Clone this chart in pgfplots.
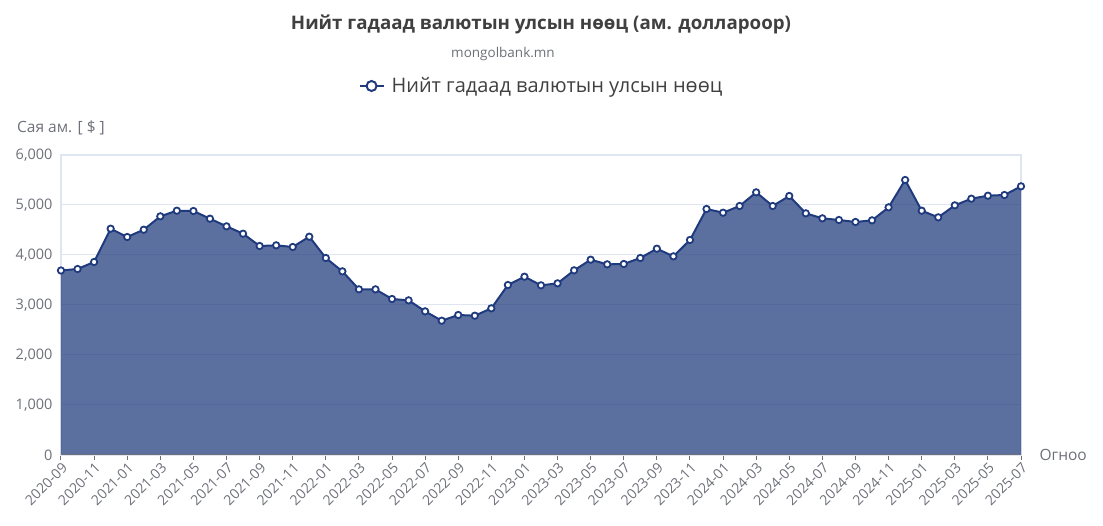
\documentclass[border=0pt]{standalone}
\usepackage{fontspec}
\setmainfont{Open Sans}
\usepackage{pgfplots}
\pgfplotsset{compat=1.18}
\usepackage{pgfplotstable}
\definecolor{navy}{RGB}{31,59,125}
\definecolor{txtgray}{RGB}{110,112,121}
\definecolor{gridc}{RGB}{224,230,241}
\definecolor{titlec}{RGB}{64,64,64}

\pgfplotstableread{
x y
0 3690
1 3720
2 3860
3 4526
4 4360
5 4506
6 4773
7 4886
8 4880
9 4726
10 4573
11 4426
12 4180
13 4193
14 4160
15 4366
16 3940
17 3673
18 3313
19 3313
20 3120
21 3093
22 2873
23 2686
24 2800
25 2786
26 2933
27 3400
28 3566
29 3393
30 3433
31 3693
32 3906
33 3813
34 3820
35 3940
36 4126
37 3973
38 4300
39 4920
40 4846
41 4980
42 5253
43 4980
44 5180
45 4833
46 4733
47 4700
48 4660
49 4693
50 4953
51 5500
52 4886
53 4753
54 4993
55 5126
56 5186
57 5200
58 5373
}\datatable

\begin{document}
\begin{tikzpicture}
\begin{axis}[
  name=ax,
  scale only axis, width=960pt, height=300pt,
  xmin=0, xmax=58, ymin=0, ymax=6000,
  xtick={0,2,...,58},
  xticklabels={2020-09,2020-11,2021-01,2021-03,2021-05,2021-07,2021-09,2021-11,2022-01,2022-03,2022-05,2022-07,2022-09,2022-11,2023-01,2023-03,2023-05,2023-07,2023-09,2023-11,2024-01,2024-03,2024-05,2024-07,2024-09,2024-11,2025-01,2025-03,2025-05,2025-07},
  x tick label style={rotate=45, anchor=north east, font=\fontsize{14}{14}\selectfont, text=txtgray, inner sep=1pt},
  ytick={0,1000,...,6000},
  y tick label style={font=\fontsize{14.5}{14.5}\selectfont, text=txtgray},
  /pgf/number format/1000 sep={,},
  /pgf/number format/assume math mode=true,
  scaled y ticks=false,
  xtick pos=bottom,
  ytick style={draw=none},
  x tick style={draw=txtgray, line width=1pt},
  tick align=outside,
  major tick length=5pt,
  axis line style={draw=gridc, line width=1.5pt},
  ymajorgrids,
  major grid style={draw=gridc, line width=1pt},
  legend style={at={(0.5005,1.23)}, anchor=center, draw=none, fill=none,
    font=\fontsize{20}{20}\selectfont, text=titlec},
  legend image code/.code={
    \draw[navy, line width=2pt] (0pt,0pt) -- (24pt,0pt);
    \draw[navy, line width=2pt, fill=white] (12pt,0pt) circle (5pt);
  },
]
\addplot[draw=none, fill=navy, fill opacity=0.73, forget plot] table[x=x,y=y] {\datatable} \closedcycle;
\addplot[navy, line width=2pt, mark=*, mark size=3.2pt,
  mark options={fill=white, draw=navy, line width=1.8pt}] table[x=x,y=y] {\datatable};
\addlegendentry{\hspace{5pt}Нийт гадаад валютын улсын нөөц}
\draw[txtgray, line width=1pt] (rel axis cs:0,0) -- (rel axis cs:1,0);
\end{axis}
\begin{scope}[shift={(ax.south west)}, x=1pt, y=1pt]
\node[font=\bfseries\fontsize{18.7}{18.7}\selectfont, text=titlec] at (480,431) {Нийт гадаад валютын улсын нөөц (ам. доллароор)};
\node[font=\fontsize{13.5}{13.5}\selectfont, text=txtgray] at (442,401) {mongolbank.mn};
\node[font=\fontsize{15.5}{15.5}\selectfont, text=txtgray] at (0,327) {Сая ам. [ \$ ]};
\node[font=\fontsize{15.5}{15.5}\selectfont, text=txtgray, anchor=west] at (975,0) {Огноо};
\pgfresetboundingbox
\path[use as bounding box] (-61,-71) rectangle (1042,455);
\end{scope}
\end{tikzpicture}
\end{document}
